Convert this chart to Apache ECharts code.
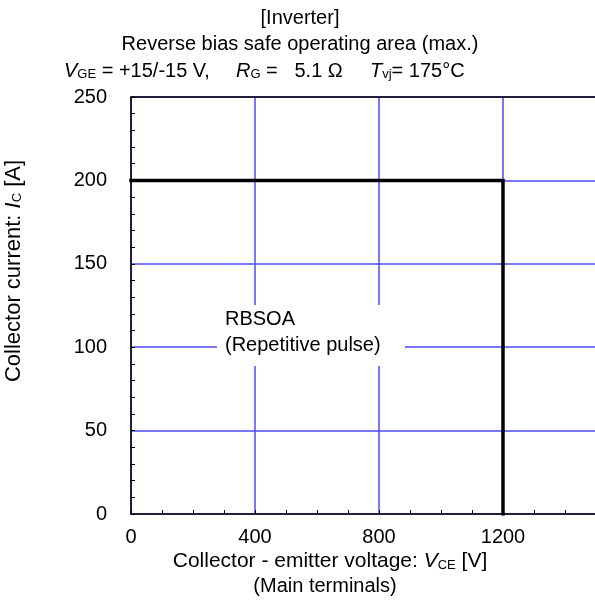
<!DOCTYPE html>
<html><head><meta charset="utf-8">
<script src="https://cdn.jsdelivr.net/npm/echarts@6/dist/echarts.min.js"></script>
<style>html,body{margin:0;padding:0;background:#fff}#c{width:595px;height:602px}</style>
</head><body><div id="c"></div>
<script>
// Data
const xTicks = [0, 400, 800, 1200];
const yTicks = [0, 50, 100, 150, 200, 250];
const rbsoaVce = [0, 1200, 1200];
const rbsoaIc = [200, 200, 0];
const titleLines = ['[Inverter]', 'Reverse bias safe operating area (max.)'];
const annotation = ['RBSOA', '(Repetitive pulse)'];

const F = 'Liberation Sans, Arial, sans-serif';
const FS = 20;
const chart = echarts.init(document.getElementById('c'), null, {renderer: 'canvas'});
const axisTextStyle = {color: '#000', fontFamily: F, fontSize: FS};
const gridColor = '#4b4bff';

const option = {
  animation: false,
  backgroundColor: '#fff',
  grid: {left: 131, top: 97, width: 496, height: 417, containLabel: false, outerBoundsMode: 'none'},
  xAxis: [{
    type: 'value', min: 0, max: 1600, interval: 400,
    axisLine: {show: true, lineStyle: {color: '#000', width: 1.5}},
    axisTick: {show: true, inside: true, length: 4, lineStyle: {color: '#000'}},
    minorTick: {show: true, splitNumber: 4, length: 4, lineStyle: {color: '#000'}},
    splitLine: {show: true, lineStyle: {color: gridColor, width: 1.5}},
    axisLabel: Object.assign({margin: 13, formatter: v => xTicks.includes(v) ? String(v) : ''}, axisTextStyle)
  }, {
    type: 'value', min: 0, max: 1600, position: 'top',
    axisLine: {show: true, onZero: false, lineStyle: {color: '#000', width: 1.5}},
    axisTick: {show: false}, axisLabel: {show: false}, splitLine: {show: false}
  }],
  yAxis: {
    type: 'value', min: 0, max: 250, interval: 50,
    axisLine: {show: true, lineStyle: {color: '#000', width: 1.5}},
    axisTick: {show: true, inside: true, length: 4, lineStyle: {color: '#000'}},
    minorTick: {show: true, splitNumber: 5, length: 4, lineStyle: {color: '#000'}},
    splitLine: {show: true, lineStyle: {color: gridColor, width: 1.5}},
    axisLabel: Object.assign({margin: 24, formatter: v => yTicks.includes(v) ? String(v) : ''}, axisTextStyle)
  },
  series: [{
    type: 'line', xAxisIndex: 0,
    data: rbsoaVce.map((v, i) => [v, rbsoaIc[i]]),
    showSymbol: false, symbol: 'none',
    lineStyle: {color: '#000', width: 3.5, join: 'miter', cap: 'square'},
    z: 5
  }]
};
chart.setOption(option);

const font = s => s + 'px ' + F;
const sub = {font: font(13), fill: '#000', padding: [7, 0, 0, 0]};
const ital = {font: 'italic ' + font(20), fill: '#000'};
const norm = {font: font(20), fill: '#000'};
const ital2 = {font: 'italic ' + font(22), fill: '#000'};
const norm2 = {font: font(22), fill: '#000'};
const ital3 = {font: 'italic ' + font(21), fill: '#000'};
const norm3 = {font: font(21), fill: '#000'};
chart.setOption({
  graphic: [
    {type: 'text', x: 300, y: 8, style: {text: titleLines[0], font: font(20), fill: '#000', align: 'center'}},
    {type: 'text', x: 300, y: 34, style: {text: titleLines[1], font: font(20), fill: '#000', align: 'center'}},
    {type: 'text', x: 64, y: 61, style: {text: '{i|V}{s|GE}{n| = +15/-15 V,}', rich: {i: ital, s: sub, n: norm}}},
    {type: 'text', x: 236, y: 61, style: {text: '{i|R}{s|G}{n| =   5.1 Ω}', rich: {i: ital, s: sub, n: norm}}},
    {type: 'text', x: 370, y: 61, style: {text: '{i|T}{s|vj}{n|= 175°C}', rich: {i: ital, s: sub, n: norm}}},
    {type: 'rect', shape: {x: 217, y: 305, width: 188, height: 61}, style: {fill: '#fff'}, z: 10},
    {type: 'text', x: 225, y: 309, z: 11, style: {text: annotation[0], font: font(20), fill: '#000'}},
    {type: 'text', x: 225, y: 335, z: 11, style: {text: annotation[1], font: font(20), fill: '#000'}},
    {type: 'text', x: 3, y: 271, rotation: Math.PI / 2, z: 11, style: {
      text: '{n|Collector current: }{i|I}{s|C}{n| [A]}', align: 'center', verticalAlign: 'top',
      rich: {i: ital2, s: sub, n: norm2}
    }},
    {type: 'text', x: 330, y: 551, style: {
      text: '{n|Collector - emitter voltage: }{i|V}{s|CE}{n| [V]}', align: 'center',
      rich: {i: ital3, s: sub, n: norm3}
    }},
    {type: 'text', x: 325, y: 576, style: {text: '(Main terminals)', font: font(20), fill: '#000', align: 'center'}}
  ]
});
</script></body></html>
